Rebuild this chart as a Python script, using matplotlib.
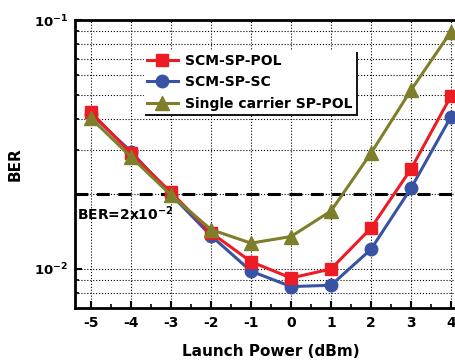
import matplotlib
matplotlib.use('Agg')
import matplotlib.pyplot as plt
from matplotlib.ticker import MultipleLocator, FixedLocator, FuncFormatter

# Данные
power = [-5, -4, -3, -2, -1, 0, 1, 2, 3, 4]
ber_scm_pol = [0.0426, 0.0291, 0.0203, 0.0140, 0.0107, 0.0092, 0.0100, 0.0146, 0.0252, 0.0495]
ber_scm_sc = [0.0420, 0.0296, 0.0199, 0.0136, 0.0098, 0.0085, 0.0086, 0.0120, 0.0211, 0.0409]
ber_single = [0.0403, 0.0282, 0.0198, 0.0144, 0.0127, 0.0135, 0.0171, 0.0292, 0.0523, 0.0898]
labels = ['SCM-SP-POL', 'SCM-SP-SC', 'Single carrier SP-POL']
fec_limit = 0.02

plt.rcParams['font.family'] = 'DejaVu Sans'
plt.rcParams['font.weight'] = 'bold'
plt.rcParams['axes.unicode_minus'] = False

fig = plt.figure(figsize=(4.56, 3.6), dpi=100)
ax = fig.add_axes([0.1645, 0.1444, 0.8596, 0.8])

ax.plot(power, ber_scm_pol, '-s', color='#ed1c24', lw=2.2, ms=8, label=labels[0], zorder=4)
ax.plot(power, ber_scm_sc, '-o', color='#3953a4', lw=2.2, ms=9, label=labels[1], zorder=3)
ax.plot(power, ber_single, '-^', color='#7f7f2b', lw=2.2, ms=10, label=labels[2], zorder=5)

ax.axhline(fec_limit, color='black', lw=2.2, dashes=(4.2, 2.8), zorder=2)
ax.text(-5.35, 0.0182, r'BER=2x10$^{\mathbf{-2}}$', fontsize=10, fontweight='bold',
        va='top', ha='left')

ax.set_yscale('log')
ax.set_ylim(0.00697, 0.1)
ax.set_xlim(-5.4, 4.4)

ax.xaxis.set_major_locator(MultipleLocator(1))
ax.xaxis.set_minor_locator(MultipleLocator(0.5))
ax.yaxis.set_major_locator(FixedLocator([0.01, 0.1]))
ax.yaxis.set_minor_locator(FixedLocator([0.008, 0.009] + [0.01 * k for k in range(2, 10)]))
ax.yaxis.set_major_formatter(FuncFormatter(
    lambda v, p: r'$\mathbf{10^{-1}}$' if v > 0.05 else r'$\mathbf{10^{-2}}$'))
ax.yaxis.set_minor_formatter(FuncFormatter(lambda v, p: ''))

ax.tick_params(axis='both', which='major', direction='in', length=5, width=1.5,
               labelsize=10, pad=6)
ax.tick_params(axis='both', which='minor', direction='in', length=3, width=1.2)
ax.tick_params(axis='y', which='major', pad=5, labelsize=9.5)

ax.grid(True, which='major', axis='x', color='black', ls=':', lw=0.8)
ax.grid(True, which='minor', axis='y', color='black', ls=':', lw=0.8)
ax.grid(True, which='major', axis='y', color='black', ls=':', lw=0.8)

for s in ['left', 'bottom', 'top']:
    ax.spines[s].set_linewidth(2)
ax.spines['right'].set_visible(False)

ax.set_xlabel('Launch Power (dBm)', fontsize=11, fontweight='bold', labelpad=10)
ax.set_ylabel('BER', fontsize=11, fontweight='bold', labelpad=8)

leg = ax.legend(loc='upper left', bbox_to_anchor=(0.168, 0.905), fontsize=10,
                frameon=True, fancybox=False, handlelength=2.2, borderpad=0.25,
                labelspacing=0.55, handletextpad=0.55, borderaxespad=0.2,
                shadow={'ox': 1.0, 'oy': -1.0, 'color': 'black', 'alpha': 0.9})
leg.get_frame().set_edgecolor('white')
leg.get_frame().set_linewidth(0)

fig.savefig('out.png', dpi=100)
